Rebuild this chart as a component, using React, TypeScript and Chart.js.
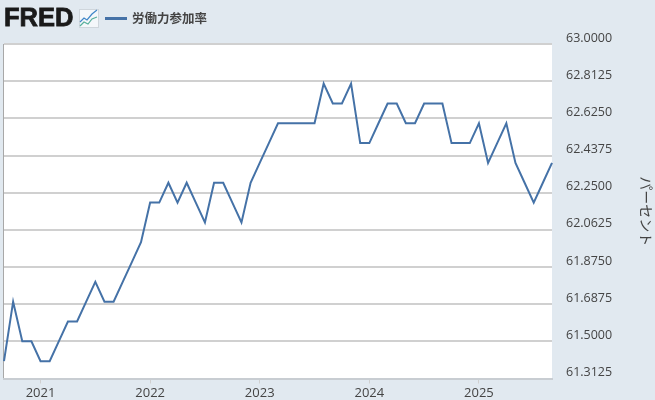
import { useEffect, useRef } from "react"
import { Chart, registerables } from "chart.js"

Chart.register(...registerables)

const seriesName = "労働力参加率"
const axisTitle = "パーセント"

// monthly, Sep 2020 - Sep 2025
const months = [
  "2020-09", "2020-10", "2020-11", "2020-12",
  "2021-01", "2021-02", "2021-03", "2021-04", "2021-05", "2021-06", "2021-07", "2021-08", "2021-09", "2021-10", "2021-11", "2021-12",
  "2022-01", "2022-02", "2022-03", "2022-04", "2022-05", "2022-06", "2022-07", "2022-08", "2022-09", "2022-10", "2022-11", "2022-12",
  "2023-01", "2023-02", "2023-03", "2023-04", "2023-05", "2023-06", "2023-07", "2023-08", "2023-09", "2023-10", "2023-11", "2023-12",
  "2024-01", "2024-02", "2024-03", "2024-04", "2024-05", "2024-06", "2024-07", "2024-08", "2024-09", "2024-10", "2024-11", "2024-12",
  "2025-01", "2025-02", "2025-03", "2025-04", "2025-05", "2025-06", "2025-07", "2025-08", "2025-09",
]
const participation = [
  61.4, 61.7, 61.5, 61.5,
  61.4, 61.4, 61.5, 61.6, 61.6, 61.7, 61.8, 61.7, 61.7, 61.8, 61.9, 62.0,
  62.2, 62.2, 62.3, 62.2, 62.3, 62.2, 62.1, 62.3, 62.3, 62.2, 62.1, 62.3,
  62.4, 62.5, 62.6, 62.6, 62.6, 62.6, 62.6, 62.8, 62.7, 62.7, 62.8, 62.5,
  62.5, 62.6, 62.7, 62.7, 62.6, 62.6, 62.7, 62.7, 62.7, 62.5, 62.5, 62.5,
  62.6, 62.4, 62.5, 62.6, 62.4, 62.3, 62.2, 62.3, 62.4,
]
const yMin = 61.3125
const yMax = 63
const yStep = 0.1875

const textColor = "#444444"
const lineColor = "#4572a7"
const gridColor = "#d0d0d0"

// white plot background and the left frame line
const plotFrame = {
  id: "plotFrame",
  beforeDraw(chart: Chart) {
    const { ctx, chartArea: a } = chart
    ctx.save()
    ctx.fillStyle = "#ffffff"
    ctx.fillRect(a.left, a.top, a.right - a.left, a.bottom - a.top)
    ctx.strokeStyle = "#a8a8a8"
    ctx.lineWidth = 1
    ctx.beginPath()
    ctx.moveTo(a.left - 0.5, a.top)
    ctx.lineTo(a.left - 0.5, a.bottom)
    ctx.stroke()
    ctx.restore()
  },
}

export default function App() {
  const chartRef = useRef<HTMLCanvasElement>(null)

  useEffect(() => {
    if (!chartRef.current) return

    const chart = new Chart(chartRef.current, {
      type: "line",
      data: {
        labels: months,
        datasets: [
          {
            label: seriesName,
            data: participation,
            borderColor: lineColor,
            borderWidth: 2,
            pointRadius: 0,
            tension: 0,
          },
        ],
      },
      options: {
        animation: false,
        responsive: false,
        layout: { padding: { top: 44, left: 4, right: 0, bottom: 0 } },
        plugins: { legend: { display: false }, tooltip: { enabled: false } },
        scales: {
          x: {
            offset: false,
            afterBuildTicks: (scale) => {
              // only January gets a tick
              scale.ticks = scale.ticks.filter((t) => months[t.value].endsWith("-01"))
            },
            afterFit: (scale) => {
              scale.height = 19
            },
            grid: { drawOnChartArea: false, tickLength: 5, tickColor: "#d0d0d0" },
            border: { color: "#c8cdd2", width: 2 },
            ticks: {
              autoSkip: false,
              maxRotation: 0,
              padding: 2,
              color: textColor,
              font: { family: "'Open Sans'", size: 13 },
              callback: (value) => months[value as number].slice(0, 4),
            },
          },
          y: {
            position: "right",
            min: yMin,
            max: yMax,
            afterBuildTicks: (scale) => {
              scale.ticks = Array.from({ length: 10 }, (_, i) => ({ value: yMax - i * yStep }))
            },
            afterFit: (scale) => {
              scale.width = 103
            },
            grid: { color: gridColor, lineWidth: 2, drawTicks: false },
            border: { display: false },
            title: {
              display: true,
              text: axisTitle,
              color: textColor,
              font: { family: "'Noto Sans CJK JP'", size: 14 },
              padding: { top: 0, bottom: 1 },
            },
            ticks: {
              padding: 14,
              labelOffset: -6,
              color: textColor,
              font: { family: "'Open Sans'", size: 12.5 },
              callback: (value) => Number(value).toFixed(4),
            },
          },
        },
      },
      plugins: [plotFrame],
    })

    return () => chart.destroy()
  }, [])

  return (
    <div
      style={{
        position: "absolute",
        left: 0,
        top: 0,
        width: 655,
        height: 400,
        overflow: "hidden",
        background: "#e1e9f0",
      }}
    >
      <canvas ref={chartRef} width={655} height={400} style={{ display: "block" }} />
      <span
        style={{
          position: "absolute",
          left: 4,
          top: 3,
          fontFamily: "'Liberation Sans'",
          fontWeight: 700,
          fontSize: 25.5,
          lineHeight: "29px",
          color: "#1a1a1a",
          WebkitTextStroke: "0.8px #1a1a1a",
        }}
      >
        FRED
      </span>
      <svg
        width={20}
        height={19}
        viewBox="0 0 20 19"
        style={{ position: "absolute", left: 79, top: 9 }}
      >
        <rect x={0.5} y={0.5} width={19} height={18} fill="#f4f7fa" stroke="#cfd6dc" />
        <polyline points="1,13 5,9 8,11 13,5 18,1" fill="none" stroke="#3f86c8" strokeWidth={1.2} />
        <polyline points="1,17 5,13 9,15 13,10 18,8" fill="none" stroke="#58b09c" strokeWidth={1.2} />
      </svg>
      <div
        style={{
          position: "absolute",
          left: 105,
          top: 17,
          width: 22,
          height: 3,
          background: lineColor,
        }}
      />
      <span
        style={{
          position: "absolute",
          left: 132,
          top: 9,
          fontFamily: "'Noto Sans CJK JP'",
          fontWeight: 700,
          fontSize: 12.5,
          lineHeight: "18px",
          color: textColor,
        }}
      >
        {seriesName}
      </span>
    </div>
  )
}
